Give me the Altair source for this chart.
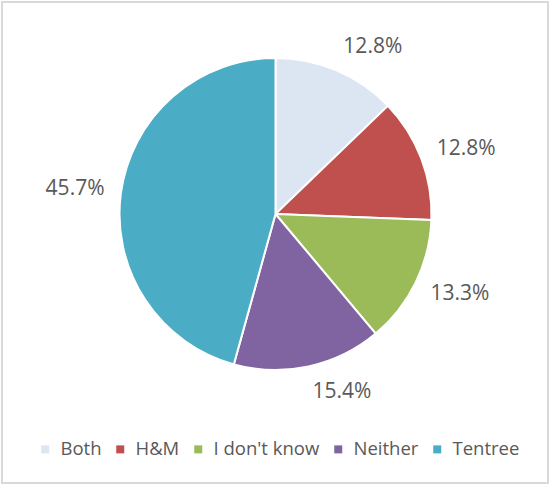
import altair as alt
import numpy as np
import pandas as pd

categories = ["Both", "H&M", "I don't know", "Neither", "Tentree"]
values = [12.8, 12.8, 13.3, 15.4, 45.7]
colors = ["#dce6f2", "#c0504d", "#9bbb59", "#8064a2", "#4bacc6"]

OUTER = 156
GAP = 16
HALF_W, HALF_H = 30, 10
CX, CY = 273.5, 212

# label placement: anchor just outside the slice's mid-angle, box pushed outward
vals = np.array(values)
mid = (np.cumsum(vals) - vals / 2) / vals.sum() * 2 * np.pi
ax = (OUTER + GAP) * np.sin(mid) + np.sign(np.sin(mid)) * HALF_W
ay = -(OUTER + GAP) * np.cos(mid) - np.cos(mid) * HALF_H
label_theta = np.mod(np.arctan2(ax, -ay), 2 * np.pi)
label_r = np.hypot(ax, ay)

df = pd.DataFrame({
    "category": categories,
    "value": values,
    "order": list(range(len(categories))),
    "label": [f"{v:.1f}%" for v in values],
    "lt": label_theta,
    "lr": label_r,
})

FONT = "Open Sans"

pie = alt.Chart(df).mark_arc(outerRadius=OUTER, stroke="white", strokeWidth=2).encode(
    theta=alt.Theta("value:Q", stack=True),
    order=alt.Order("order:Q"),
    x=alt.value(CX),
    y=alt.value(CY),
    color=alt.Color(
        "category:N",
        scale=alt.Scale(domain=categories, range=colors),
        sort=categories,
        legend=alt.Legend(
            title=None,
            orient="none",
            legendX=34,
            legendY=438,
            direction="horizontal",
            symbolType="square",
            symbolSize=64,
            symbolStrokeWidth=0,
            labelFont=FONT,
            labelFontSize=18.5,
            labelColor="#595959",
            columnPadding=9,
            labelOffset=6,
        ),
    ),
)

text = alt.Chart(df).mark_text(font=FONT, fontSize=21, color="#595959").encode(
    theta=alt.Theta("lt:Q", scale=None),
    radius=alt.Radius("lr:Q", scale=None),
    x=alt.value(CX),
    y=alt.value(CY),
    text="label:N",
)

chart = (pie + text).properties(
    width=546,
    height=481,
    padding={"left": 2, "top": 2, "right": 3, "bottom": 3},
    autosize=alt.AutoSizeParams(type="none"),
    background="white",
).configure_view(stroke="#d9d9d9", strokeWidth=2)

chart.save("out.html", embed_options={"renderer": "svg", "actions": False})
